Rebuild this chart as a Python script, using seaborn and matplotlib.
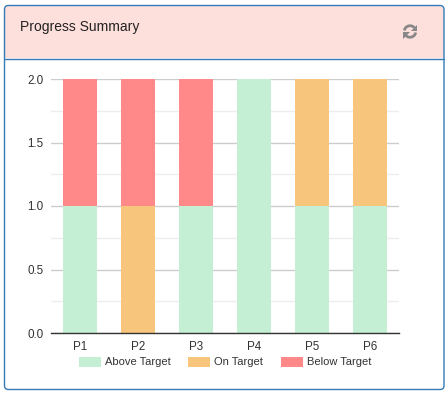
import matplotlib
matplotlib.use("Agg")
import matplotlib.pyplot as plt
import pandas as pd
import seaborn as sns
from matplotlib.patches import FancyBboxPatch, Rectangle, Arc, Polygon

periods = ["P1", "P2", "P3", "P4", "P5", "P6"]
above_target = [1, 0, 1, 2, 1, 1]
on_target = [0, 1, 0, 0, 1, 1]
below_target = [1, 1, 1, 0, 0, 0]
y_ticks = [0.0, 0.5, 1.0, 1.5, 2.0]
y_minor = [0.25, 0.75, 1.25, 1.75]

W, H = 447, 393
sns.set_style("white")
plt.rcParams["font.family"] = ["Liberation Sans", "DejaVu Sans"]

fig = plt.figure(figsize=(W / 100, H / 100), dpi=100)

# card behind the chart, in pixel coords
bg = fig.add_axes([0, 0, 1, 1])
bg.set_xlim(0, W)
bg.set_ylim(H, 0)
bg.axis("off")
border = "#337ab7"
header = FancyBboxPatch((5, 6), 439, 60, boxstyle="round,pad=0,rounding_size=4", fc="#fddfdc", ec="none")
bg.add_patch(header)
bg.add_patch(Rectangle((5, 58), 439, 12, fc="white", ec="none"))
bg.plot([5, 444], [58.5, 58.5], color=border, lw=1)
bg.add_patch(FancyBboxPatch((4.5, 5.5), 439.5, 384, boxstyle="round,pad=0,rounding_size=4", fc="none", ec=border, lw=1))
bg.text(20.5, 27, "Progress Summary", fontsize=10, color="#222222", va="center", ha="left")

# refresh icon
icon = "#888888"
bg.add_patch(Arc((410, 31.5), 11.5, 11.5, theta1=190, theta2=320, color=icon, lw=2))
bg.add_patch(Arc((410, 31.5), 11.5, 11.5, theta1=10, theta2=140, color=icon, lw=2))
bg.add_patch(Polygon([[417, 24.5], [417, 31], [410.5, 31]], fc=icon, ec="none"))
bg.add_patch(Polygon([[403, 38.5], [403, 32], [409.5, 32]], fc=icon, ec="none"))

ax = fig.add_axes([51 / W, 1 - 333 / H, 348 / W, 254 / H])
ax.patch.set_alpha(0)

df = pd.DataFrame({"period": periods, "above": above_target, "on": on_target, "below": below_target})
bar_opts = dict(saturation=1, width=0.6, linewidth=0, ax=ax, zorder=3)
sns.barplot(data=df, x="period", y="above", color="#c4efd4", label="Above Target", **bar_opts)
sns.barplot(data=df, x="period", y="on", bottom=df["above"], color="#f8c57c", label="On Target", **bar_opts)
sns.barplot(data=df, x="period", y="below", bottom=df["above"] + df["on"], color="#ff8888", label="Below Target", **bar_opts)

ax.set_xlim(-0.5, 5.5)
ax.set_ylim(0, 2)
ax.set_xlabel("")
ax.set_ylabel("")
ax.set_yticks(y_ticks)
ax.set_yticklabels([f"{v:.1f}" for v in y_ticks])
ax.set_yticks(y_minor, minor=True)
ax.grid(False)
ax.grid(True, axis="y", which="major", color="#cccccc", lw=1, zorder=1)
ax.grid(True, axis="y", which="minor", color="#eeeeee", lw=1, zorder=1)
ax.set_axisbelow(True)
for s in ["top", "left", "right"]:
    ax.spines[s].set_visible(False)
ax.spines["bottom"].set_color("#333333")
ax.spines["bottom"].set_linewidth(1)
ax.spines["bottom"].set_zorder(5)
ax.tick_params(axis="both", which="both", length=0, labelsize=8.4, labelcolor="#333333")
ax.tick_params(axis="y", pad=5.5)
ax.tick_params(axis="x", pad=6)

leg = ax.legend(
    loc="center",
    bbox_to_anchor=(225 / W, 1 - 362 / H),
    bbox_transform=fig.transFigure,
    ncol=3,
    frameon=False,
    fontsize=8,
    handlelength=1.98,
    handleheight=1.0,
    handletextpad=0.36,
    columnspacing=1.62,
    borderpad=0,
    labelcolor="#333333",
)

fig.savefig("out.png", dpi=100)
